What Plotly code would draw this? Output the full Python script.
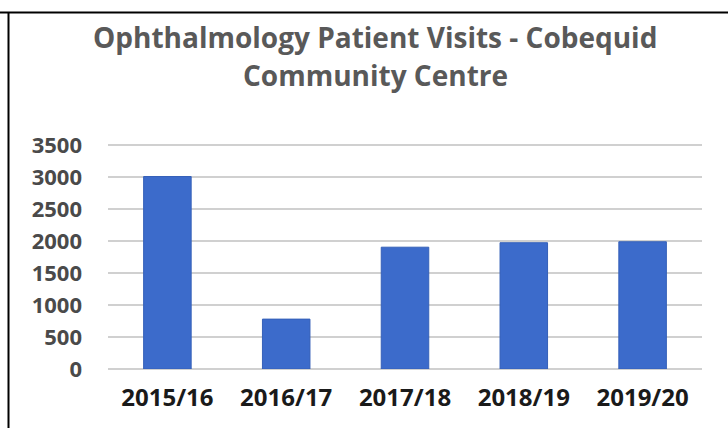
import plotly.graph_objects as go

years = ["2015/16", "2016/17", "2017/18", "2018/19", "2019/20"]
visits = [3010, 780, 1905, 1975, 1990]
y_ticks = [0, 500, 1000, 1500, 2000, 2500, 3000, 3500]

title_lines = ["Ophthalmology Patient Visits - Cobequid", "Community Centre"]

# plot area in pixels: x 108..702, y 142..369 (3500 gridline lands at ~145)
plot_top, plot_bottom = 142, 369
plot_left, plot_width = 108, 594


def py(px):
    return (plot_bottom - px) / (plot_bottom - plot_top)


def px_x(px):
    return (px - plot_left) / plot_width


fig = go.Figure()

fig.add_trace(
    go.Bar(
        x=years,
        y=visits,
        marker=dict(color="#3C6BCB", line=dict(color="#3560B8", width=1)),
        showlegend=False
    )
)

# page border like a table cell
border = dict(color="black", width=2)
fig.add_shape(type="line", xref="paper", yref="paper",
              x0=px_x(0), x1=px_x(728), y0=py(12.5), y1=py(12.5), line=border)
fig.add_shape(type="line", xref="paper", yref="paper",
              x0=px_x(8.5), x1=px_x(8.5), y0=py(12.5), y1=py(430), line=border)

# title, two lines
for text, ypix in zip(title_lines, [37, 75]):
    fig.add_annotation(
        text=text,
        xref="paper", yref="paper",
        x=px_x(375), y=py(ypix),
        xanchor="center", yanchor="middle",
        showarrow=False,
        font=dict(family="Open Sans", size=28, color="#595959", weight="bold")
    )

fig.update_layout(
    width=728,
    height=428,
    paper_bgcolor="white",
    plot_bgcolor="white",
    bargap=0.6,
    margin=dict(l=108, r=26, t=142, b=59),
    xaxis=dict(
        showgrid=False,
        showline=False,
        ticks="",
        ticklabelstandoff=12,
        tickfont=dict(family="Open Sans", size=24, color="#1A1A1A", weight="bold")
    ),
    yaxis=dict(
        range=[0, 3550],
        tickvals=y_ticks,
        showgrid=True,
        gridcolor="#D0D0D0",
        gridwidth=2,
        zeroline=True,
        zerolinecolor="#D0D0D0",
        zerolinewidth=2,
        showline=False,
        ticks="",
        ticklabelstandoff=25,
        tickfont=dict(family="Open Sans", size=22, color="#4A4A4A", weight="bold")
    )
)

fig.write_html(
    "out.html",
    config={"displayModeBar": False},
    post_script="document.body.style.margin='0';"
)
